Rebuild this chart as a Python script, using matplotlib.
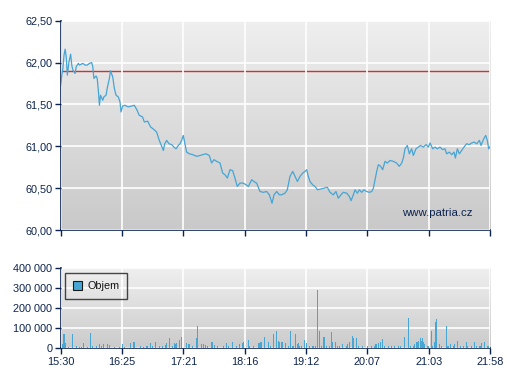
import numpy as np
import matplotlib
matplotlib.use("Agg")
import matplotlib.pyplot as plt
from matplotlib.patches import Patch

# ---- data ----
time_labels = ["15:30", "16:25", "17:21", "18:16", "19:12", "20:07", "21:03", "21:58"]
session_minutes = 388  # 15:30 -> 21:58

price_minutes = [0, 1, 2, 3, 4, 5, 6, 7.5, 9, 10, 11, 13, 14, 16, 17, 20, 22, 24, 26, 28,
                 29, 30, 32, 33, 34, 35, 36, 38, 39, 41, 42, 44, 45, 47, 48.5, 50, 52, 53.6, 54.5, 56,
                 58, 61, 64, 66.5, 68.7, 71, 74, 75.6, 78.6, 81.3, 84.3, 86.7, 89.1, 91, 92.8, 94, 95.8, 97.9, 100.3, 102.4,
                 104.2, 106.3, 107.8, 109.3, 110.8, 112.3, 113.8, 116.3, 119.3, 122.9, 125.9, 128.3, 131.3, 134.3, 136.4, 138.6, 141, 144, 146.4, 148.5,
                 150.6, 153, 155.4, 157.5, 159.6, 162, 165, 167.5, 169.6, 172.6, 175.6, 177.1, 180.1, 183.1, 186.1, 188.6, 191, 192.8, 195.2, 197.6,
                 199.7, 202.7, 204.8, 207.2, 209.7, 211.8, 213.9, 216.3, 218.7, 220.8, 222.3, 223.8, 225.3, 227.7, 229.8, 232.2, 235, 238, 241, 243.4,
                 246.4, 248.8, 250.9, 253.3, 255.4, 258.5, 260.9, 262.4, 264.5, 266, 268.1, 269.9, 272, 274.1, 276.5, 278.9, 281.1, 282.6, 284.1, 285.6,
                 287.1, 289.2, 291, 293.1, 295.2, 297.6, 300.6, 303.6, 306, 308.2, 309.7, 311.2, 313.3, 315.1, 317.2, 318.7, 321.1, 323.2, 325.3, 327.7,
                 330.2, 332.3, 333.8, 336.2, 338.3, 340.4, 342.8, 345.2, 347.3, 348.8, 351.2, 353.4, 355.5, 356.7, 358.5, 360.3, 362.4, 364.5, 366.9, 369.3,
                 371.5, 373.6, 376, 378.4, 379.9, 382, 384.1, 385.6, 386.8, 387.7]
price_values = [61.73, 61.85, 61.93, 62.09, 62.16, 62.07, 61.85, 62.01, 62.10, 61.97, 61.91, 61.87, 61.95, 61.99, 61.97, 61.99, 61.97, 61.97, 61.99, 62.00,
                61.95, 61.81, 61.84, 61.81, 61.67, 61.49, 61.61, 61.55, 61.59, 61.61, 61.69, 61.81, 61.90, 61.83, 61.69, 61.61, 61.59, 61.53, 61.41, 61.48,
                61.49, 61.47, 61.48, 61.49, 61.44, 61.37, 61.35, 61.29, 61.30, 61.23, 61.20, 61.17, 61.07, 61.01, 60.95, 61.03, 61.07, 61.03, 61.02, 60.99,
                60.97, 61.01, 61.03, 61.07, 61.13, 61.03, 60.93, 60.91, 60.90, 60.88, 60.89, 60.90, 60.91, 60.89, 60.80, 60.84, 60.82, 60.80, 60.68, 60.66,
                60.62, 60.72, 60.71, 60.62, 60.52, 60.56, 60.56, 60.54, 60.52, 60.60, 60.57, 60.56, 60.46, 60.45, 60.46, 60.42, 60.32, 60.42, 60.46, 60.42,
                60.42, 60.44, 60.48, 60.64, 60.70, 60.64, 60.58, 60.64, 60.68, 60.70, 60.72, 60.64, 60.58, 60.54, 60.52, 60.48, 60.49, 60.50, 60.51, 60.45,
                60.42, 60.46, 60.38, 60.42, 60.45, 60.44, 60.40, 60.35, 60.42, 60.48, 60.44, 60.48, 60.45, 60.48, 60.46, 60.45, 60.46, 60.50, 60.60, 60.70,
                60.78, 60.76, 60.72, 60.82, 60.80, 60.83, 60.82, 60.80, 60.76, 60.80, 60.86, 60.97, 61.01, 60.91, 60.97, 60.89, 60.97, 60.99, 61.01, 60.99,
                61.02, 60.99, 61.04, 60.97, 60.99, 60.97, 60.99, 60.96, 60.97, 60.91, 60.93, 60.90, 60.93, 60.86, 60.97, 60.91, 60.95, 60.99, 61.03, 61.02,
                61.04, 61.05, 61.03, 61.07, 61.01, 61.08, 61.13, 61.07, 60.97, 60.99]

reference_price = 61.90

volume_minutes = [2, 3, 4, 7, 11, 14, 17, 19, 21, 24, 27, 29, 32, 35, 37, 39, 42, 44, 49, 53,
                  56, 58, 63, 66, 67, 72, 75, 78, 81, 83, 86, 89, 92, 95, 96, 98, 101, 103, 104, 105,
                  107, 109, 114, 116, 119, 123, 124, 127, 129, 131, 133, 136, 137, 139, 142, 147, 150, 152, 155, 159,
                  162, 164, 165, 170, 171, 174, 179, 180, 181, 184, 188, 190, 192, 195, 197, 198, 200, 203, 206, 208,
                  210, 212, 214, 215, 216, 218, 220, 222, 225, 228, 230, 232, 234, 236, 238, 240, 243, 245, 246, 248,
                  250, 252, 255, 258, 259, 261, 264, 265, 267, 269, 273, 277, 281, 284, 285, 287, 289, 291, 293, 296,
                  299, 302, 305, 307, 311, 314, 316, 319, 320, 322, 323, 325, 326, 327, 328, 329, 332, 335, 336, 338,
                  339, 340, 342, 344, 349, 350, 352, 355, 356, 359, 361, 364, 367, 368, 371, 374, 376, 379, 380, 383,
                  386, 387]
volume_values = [20000, 72000, 25000, 8000, 70000, 13000, 8000, 8000, 25000, 8000, 75000, 13000, 13000, 20000, 12000, 20000, 20000, 17000, 8000, 8000,
                 20000, 8000, 25000, 33000, 33000, 12000, 8000, 13000, 25000, 10000, 33000, 13000, 12000, 17000, 25000, 50000, 13000, 28000, 20000, 25000,
                 42000, 58000, 25000, 22000, 10000, 50000, 110000, 20000, 20000, 17000, 10000, 30000, 30000, 17000, 10000, 10000, 25000, 10000, 30000, 10000,
                 20000, 28000, 33000, 40000, 13000, 13000, 25000, 25000, 30000, 58000, 33000, 10000, 70000, 88000, 37000, 30000, 33000, 25000, 10000, 88000,
                 10000, 70000, 20000, 25000, 10000, 13000, 40000, 25000, 10000, 13000, 10000, 292000, 88000, 10000, 55000, 10000, 10000, 83000, 30000, 30000,
                 10000, 13000, 20000, 10000, 20000, 33000, 63000, 53000, 50000, 10000, 10000, 13000, 13000, 10000, 20000, 25000, 33000, 47000, 13000, 10000,
                 10000, 10000, 13000, 10000, 58000, 150000, 10000, 13000, 20000, 30000, 37000, 50000, 37000, 50000, 33000, 20000, 10000, 88000, 10000, 30000,
                 130000, 145000, 20000, 10000, 110000, 10000, 20000, 10000, 20000, 37000, 10000, 13000, 33000, 13000, 10000, 30000, 10000, 13000, 25000, 30000,
                 13000, 10000]

price_ticks = [60.0, 60.5, 61.0, 61.5, 62.0, 62.5]
volume_ticks = [0, 100000, 200000, 300000, 400000]

# ---- style ----
navy = "#0c2350"
line_blue = "#45a5d5"
bar_blue = "#48a6d4"
red = "#d03232"
font = ["Liberation Sans", "DejaVu Sans"]
plt.rcParams["font.family"] = font
plt.rcParams["font.size"] = 7.8

W, H = 507, 380
fig = plt.figure(figsize=(W / 100, H / 100), dpi=100)
fig.patch.set_facecolor("white")

def px_axes(l, t, r, b):
    return fig.add_axes([l / W, 1 - b / H, (r - l) / W, (b - t) / H])

ax = px_axes(60.7, 20.7, 490, 230)
axv = px_axes(60.7, 268.3, 490, 348.3)

tick_pos = np.linspace(0, session_minutes, len(time_labels))

def gradient(a, top, bottom):
    g = np.linspace(0, 1, 256).reshape(-1, 1)
    c0 = np.array(matplotlib.colors.to_rgb(top))
    c1 = np.array(matplotlib.colors.to_rgb(bottom))
    img = c0 + (c1 - c0) * g[..., None]
    a.imshow(img, extent=[0, 1, 0, 1], transform=a.transAxes, aspect="auto",
             zorder=0, origin="upper")

def style(a):
    for s in ["top", "right"]:
        a.spines[s].set_visible(False)
    for s in ["left", "bottom"]:
        a.spines[s].set_color(navy)
        a.spines[s].set_linewidth(1.2)
    a.tick_params(colors=navy, labelcolor=navy, length=4, width=1, direction="out", pad=2)
    a.set_xlim(0, session_minutes)
    a.set_xticks(tick_pos)
    a.grid(True, color="white", linewidth=1.2, zorder=1)
    a.set_axisbelow(False)

# price panel
gradient(ax, "#efefef", "#c9c9c9")
style(ax)
ax.set_ylim(60.0, 62.5)
ax.set_yticks(price_ticks)
ax.set_yticklabels([f"{v:.2f}".replace(".", ",") for v in price_ticks])
ax.set_xticklabels([])
ax.axhline(reference_price, color=red, linewidth=1.0, zorder=2)
ax.plot(price_minutes, price_values, color=line_blue, linewidth=0.9, zorder=3)
ax.text(0.960, 0.082, "www.patria.cz", transform=ax.transAxes, ha="right", va="center",
        color=navy, fontsize=8.2, zorder=4)
for gl in ax.get_xgridlines() + ax.get_ygridlines():
    gl.set_zorder(1)

# volume panel
gradient(axv, "#efefef", "#cbcbcb")
style(axv)
axv.set_ylim(0, 400000)
axv.set_yticks(volume_ticks)
axv.set_yticklabels([f"{v:,}".replace(",", " ") for v in volume_ticks])
axv.set_xticklabels(time_labels)
axv.bar(volume_minutes, volume_values, width=1.0, color=bar_blue, linewidth=0, zorder=3)
leg = axv.legend(handles=[Patch(facecolor=bar_blue, edgecolor="#1a1a1a", linewidth=0.8, label="Objem")],
                 loc="upper left", bbox_to_anchor=(0.010, 0.94), borderaxespad=0,
                 frameon=True, fancybox=False,
                 edgecolor="#1a1a1a", facecolor="none", handlelength=0.9, handleheight=0.9,
                 handletextpad=0.45, borderpad=0.7, fontsize=7.8)
leg.get_frame().set_linewidth(1.0)
for t in leg.get_texts():
    t.set_color("#111111")

fig.savefig("out.png", dpi=100)
